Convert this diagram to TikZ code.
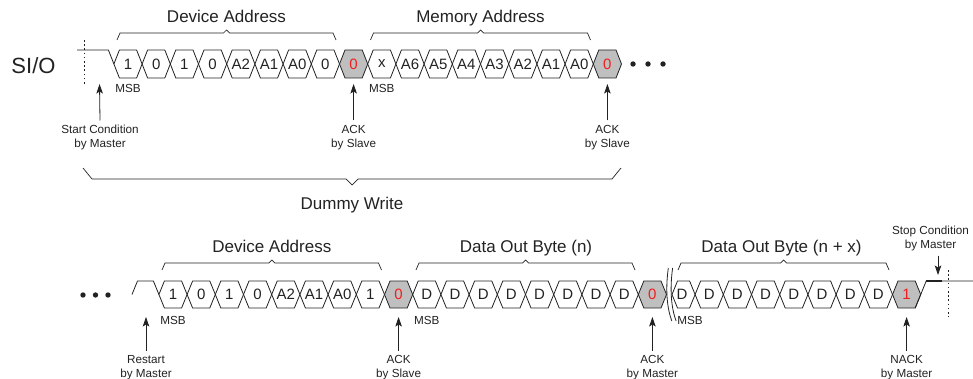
\documentclass[tikz,border=0pt]{standalone}
\usepackage{fontspec}
\setmainfont{Liberation Sans}
\usetikzlibrary{arrows.meta}
\definecolor{ink}{HTML}{222222}
\definecolor{ackgray}{HTML}{BFBFBF}
\definecolor{bitred}{HTML}{F01E1E}
\begin{document}
\begin{tikzpicture}[x=1pt,y=-1pt,line width=0.8pt,line join=miter,
  every node/.style={inner sep=0pt,text=ink},
  sig/.style={draw=ink},
  cell/.style={draw=ink},
  ackcell/.style={draw=ink,fill=ackgray},
  bit/.style={font=\fontsize{15}{15}\selectfont},
  ackbit/.style={bit,text=bitred},
  lbl/.style={font=\fontsize{11.7}{14}\selectfont,align=center,outer ysep=5pt},
  msb/.style={font=\fontsize{11.7}{14}\selectfont},
  title/.style={font=\fontsize{17}{20}\selectfont,anchor=base},
  ptr/.style={draw=ink,-{Stealth[length=9.5pt,width=6.5pt,inset=2pt]}},
  brc/.style={draw=ink,line width=0.7pt},
  bigdot/.style={circle,fill=ink,minimum size=5.4pt},
  marker/.style={draw=ink,line width=0.9pt,dash pattern=on 1.6pt off 2.6pt}]
\useasboundingbox (0,0) rectangle (973,379);

% ---------------- top row ----------------
\def\Tt{50}\def\Tb{78}\def\Tm{64}
\node[font=\fontsize{22}{24}\selectfont,anchor=base] (sio) at (33.5,73.3) {SI/O};
\draw[marker] (84,40) -- (84,86);
\draw[sig] (77,\Tt) -- (108.4,\Tt) -- (113.9,\Tm);
\foreach \v/\a [count=\i from 0] in {1/0,0/0,1/0,0/0,A2/0,A1/0,A0/0,0/0,0/1,x/0,A6/0,A5/0,A4/0,A3/0,A2/0,A1/0,A0/0,0/1}{
  \ifnum\a=1 \def\hs{ackcell}\def\bs{ackbit}\else\def\hs{cell}\def\bs{bit}\fi
  \pgfmathsetmacro\cx{128+28.2*\i}
  \pgfmathsetmacro\xl{\cx-14.1}
  \pgfmathsetmacro\xr{\cx+14.1}
  \path[\hs] (\xl,\Tm) -- ({\xl+5.5},\Tt) -- ({\xr-5.5},\Tt) -- (\xr,\Tm) -- ({\xr-5.5},\Tb) -- ({\xl+5.5},\Tb) -- cycle;
  \node[\bs] (t\i) at (\cx,\Tm) {\v};
}
\node[bigdot] (td1) at (633,64) {};
\node[bigdot] (td2) at (648,64) {};
\node[bigdot] (td3) at (663,64) {};

\node[msb] (tmsb1) at (128,88) {MSB};
\node[msb] (tmsb2) at (381.8,88) {MSB};

% top braces
\draw[brc] (117,40) -- (120,33) -- (223.5,33) -- (226.5,30) -- (229.5,33) -- (333,33) -- (336,40);
\node[title] (tda) at (226.5,22.5) {Device Address};
\draw[brc] (370.5,40) -- (373.5,33) -- (477.5,33) -- (480.5,30) -- (483.5,33) -- (587.5,33) -- (590.5,40);
\node[title] (tma) at (480.5,22.5) {Memory Address};

% top arrows and labels
\coordinate (sTip) at (99.5,84);
\node[lbl,anchor=north] (sLbl) at (100,120.5) {Start Condition\\by Master};
\draw[ptr] (sLbl.north) -- (sTip);
\coordinate (a1Tip) at (353.6,84);
\node[lbl,anchor=north] (a1Lbl) at (353.6,120.5) {ACK\\by Slave};
\draw[ptr] (a1Lbl.north) -- (a1Tip);
\coordinate (a2Tip) at (607.4,84);
\node[lbl,anchor=north] (a2Lbl) at (607.4,120.5) {ACK\\by Slave};
\draw[ptr] (a2Lbl.north) -- (a2Tip);

% dummy write brace
\draw[brc] (83,168) -- (92,179) -- (346,179) -- (352,185) -- (358,179) -- (612,179) -- (621,168);
\node[title] (dw) at (352,210) {Dummy Write};

% ---------------- bottom row ----------------
\def\Bt{281}\def\Bb{308}\def\Bm{294.5}
\node[bigdot] (bd1) at (83,295) {};
\node[bigdot] (bd2) at (95.5,295) {};
\node[bigdot] (bd3) at (108,295) {};
\draw[sig] (132,\Bm) -- (137.5,\Bt) -- (153.4,\Bt) -- (158.9,\Bm);
\foreach \v/\a [count=\i from 0] in {1/0,0/0,1/0,0/0,A2/0,A1/0,A0/0,1/0,0/1,D/0,D/0,D/0,D/0,D/0,D/0,D/0,D/0,0/1}{
  \ifnum\a=1 \def\hs{ackcell}\def\bs{ackbit}\else\def\hs{cell}\def\bs{bit}\fi
  \pgfmathsetmacro\cx{173+28.2*\i}
  \pgfmathsetmacro\xl{\cx-14.1}
  \pgfmathsetmacro\xr{\cx+14.1}
  \path[\hs] (\xl,\Bm) -- ({\xl+5.5},\Bt) -- ({\xr-5.5},\Bt) -- (\xr,\Bm) -- ({\xr-5.5},\Bb) -- ({\xl+5.5},\Bb) -- cycle;
  \node[\bs] (b\i) at (\cx,\Bm) {\v};
}
% break marks
\draw[sig] (668.3,268) .. controls (665.3,290) and (667,308) .. (671.8,321);
\draw[sig] (672.6,268) .. controls (669.6,290) and (671.3,308) .. (676.1,321);
% second segment
\path[cell] (672,\Bm) -- (677.5,\Bt) -- (689.6,\Bt) -- (695.1,\Bm) -- (689.6,\Bb) -- (677.5,\Bb) -- cycle;
\node[bit] (c0) at (682,\Bm) {D};
\foreach \v/\a [count=\j from 1] in {D/0,D/0,D/0,D/0,D/0,D/0,D/0,1/1}{
  \ifnum\a=1 \def\hs{ackcell}\def\bs{ackbit}\else\def\hs{cell}\def\bs{bit}\fi
  \pgfmathsetmacro\cx{681+28.2*\j}
  \pgfmathsetmacro\xl{\cx-14.1}
  \pgfmathsetmacro\xr{\cx+14.1}
  \path[\hs] (\xl,\Bm) -- ({\xl+5.5},\Bt) -- ({\xr-5.5},\Bt) -- (\xr,\Bm) -- ({\xr-5.5},\Bb) -- ({\xl+5.5},\Bb) -- cycle;
  \node[\bs] (c\j) at (\cx,\Bm) {\v};
}
\draw[sig] (915.2,\Bb) -- (926.2,\Bt) -- (973,\Bt);
\draw[draw=ink,line width=1.8pt] (926.2,\Bt) -- (942,\Bt);
\draw[marker] (948,270) -- (948,317);

\node[msb] (bmsb1) at (173,320) {MSB};
\node[msb] (bmsb2) at (426.8,320) {MSB};
\node[msb] (bmsb3) at (690,320) {MSB};

% bottom braces
\draw[brc] (162,270) -- (165,263) -- (268.8,263) -- (271.8,260) -- (274.8,263) -- (378.5,263) -- (381.5,270);
\node[title] (bda) at (271.8,252.5) {Device Address};
\draw[brc] (416,270) -- (419,263) -- (522.5,263) -- (525.5,260) -- (528.5,263) -- (632,263) -- (635,270);
\node[title] (bdn) at (526,252.5) {Data Out Byte (n)};
\draw[brc] (678,270) -- (681,263) -- (780.5,263) -- (783.5,260) -- (786.5,263) -- (886,263) -- (889,270);
\node[title] (bdx) at (781.5,252.5) {Data Out Byte (n + x)};

% bottom arrows and labels
\coordinate (rTip) at (146,317);
\node[lbl,anchor=north] (rLbl) at (146,350.5) {Restart\\by Master};
\draw[ptr] (rLbl.north) -- (rTip);
\coordinate (b1Tip) at (398.6,317);
\node[lbl,anchor=north] (b1Lbl) at (398.6,350.5) {ACK\\by Slave};
\draw[ptr] (b1Lbl.north) -- (b1Tip);
\coordinate (b2Tip) at (652.4,317);
\node[lbl,anchor=north] (b2Lbl) at (652.4,350.5) {ACK\\by Master};
\draw[ptr] (b2Lbl.north) -- (b2Tip);
\coordinate (b3Tip) at (906.6,317);
\node[lbl,anchor=north] (b3Lbl) at (906.6,350.5) {NACK\\by Master};
\draw[ptr] (b3Lbl.north) -- (b3Tip);

\coordinate (stTip) at (938,275);
\node[lbl,anchor=north] (stLbl) at (930.5,220.7) {Stop Condition\\by Master};
\draw[ptr] (stTip |- stLbl.south) -- (stTip);
\end{tikzpicture}
\end{document}
